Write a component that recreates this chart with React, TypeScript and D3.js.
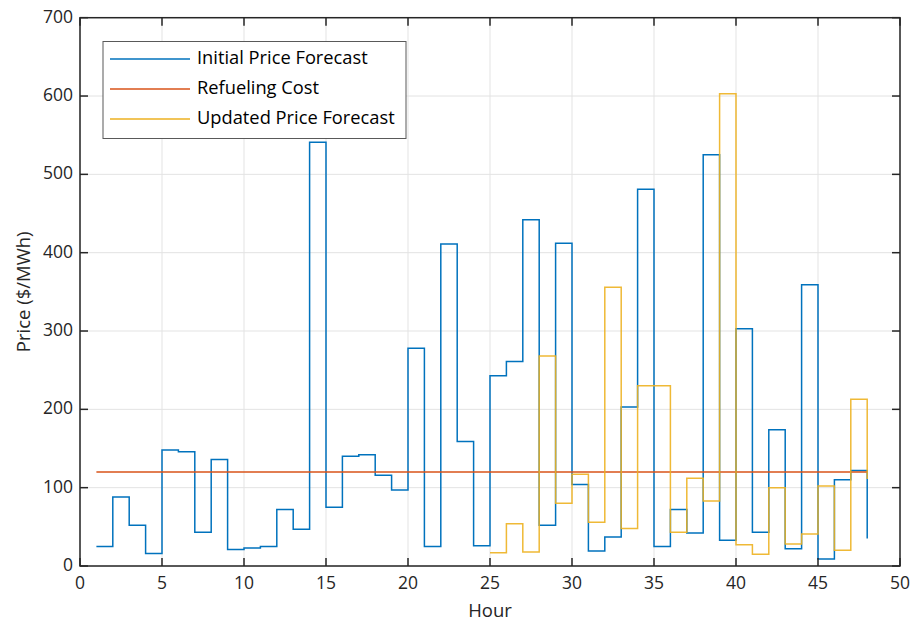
import React from "react";
import * as d3 from "d3";

const initialForecast = [
  25, 88, 52, 16, 148, 146, 43, 136, 21, 23, 25, 72, 47, 541, 75, 140,
  142, 116, 97, 278, 25, 411, 159, 26, 243, 261, 442, 52, 412, 104, 19, 37,
  203, 481, 25, 72, 42, 525, 33, 303, 43, 174, 22, 359, 9, 110, 122, 35,
];
const initialStartHour = 1;

const updatedForecast = [
  17, 54, 18, 268, 80, 117, 56, 356, 48, 230, 230, 43, 112, 83, 603, 27,
  15, 100, 28, 41, 102, 20, 213, 111,
];
const updatedStartHour = 25;

const refuelingCost = 120;
const refuelingHours = [1, 48];

const xTicks = [0, 5, 10, 15, 20, 25, 30, 35, 40, 45, 50];
const yTicks = [0, 100, 200, 300, 400, 500, 600, 700];

const seriesNames = ["Initial Price Forecast", "Refueling Cost", "Updated Price Forecast"];
const seriesColors = ["#0072BD", "#D95319", "#EDB120"];

const W = 914;
const H = 623;
const L = 80, R = 900, T = 17.7, B = 566;
const FONT = "'Open Sans', sans-serif";
const AX = "#262626";

export default function App() {
  const x = d3.scaleLinear().domain([0, 50]).range([L, R]);
  const y = d3.scaleLinear().domain([0, 700]).range([B, T]);

  const line = d3
    .line<[number, number]>()
    .x((d) => x(d[0]))
    .y((d) => y(d[1]))
    .curve(d3.curveStepAfter);

  const blue = line(initialForecast.map((v, i) => [initialStartHour + i, v] as [number, number]));
  const yellow = line(updatedForecast.map((v, i) => [updatedStartHour + i, v] as [number, number]));
  const orange = d3
    .line<[number, number]>()
    .x((d) => x(d[0]))
    .y((d) => y(d[1]))(refuelingHours.map((h) => [h, refuelingCost] as [number, number]));

  const tickLen = 8;

  return (
    <svg width={W} height={H} style={{ position: "absolute", left: 0, top: 0 }}>
      <rect x={0} y={0} width={W} height={H} fill="#fff" />
      {/* grid */}
      {xTicks.map((t) => (
        <line key={"gx" + t} x1={x(t)} x2={x(t)} y1={T} y2={B} stroke="#e3e3e3" strokeWidth={1} />
      ))}
      {yTicks.map((t) => (
        <line key={"gy" + t} x1={L} x2={R} y1={y(t)} y2={y(t)} stroke="#e3e3e3" strokeWidth={1} />
      ))}
      {/* series */}
      <path d={blue ?? ""} fill="none" stroke={seriesColors[0]} strokeWidth={1.5} />
      <path d={orange ?? ""} fill="none" stroke={seriesColors[1]} strokeWidth={1.5} />
      <path d={yellow ?? ""} fill="none" stroke={seriesColors[2]} strokeWidth={1.5} strokeOpacity={0.9} />
      {/* axes box */}
      <rect x={L} y={T} width={R - L} height={B - T} fill="none" stroke={AX} strokeWidth={1.5} />
      {xTicks.map((t) => (
        <g key={"tx" + t}>
          <line x1={x(t)} x2={x(t)} y1={B} y2={B - tickLen} stroke={AX} strokeWidth={1.5} />
          <line x1={x(t)} x2={x(t)} y1={T} y2={T + tickLen} stroke={AX} strokeWidth={1.5} />
          <text x={x(t)} y={B + 23} textAnchor="middle" fontFamily={FONT} fontSize={17.5} fill={AX}>
            {t}
          </text>
        </g>
      ))}
      {yTicks.map((t) => (
        <g key={"ty" + t}>
          <line x1={L} x2={L + tickLen} y1={y(t)} y2={y(t)} stroke={AX} strokeWidth={1.5} />
          <line x1={R} x2={R - tickLen} y1={y(t)} y2={y(t)} stroke={AX} strokeWidth={1.5} />
          <text x={L - 7} y={y(t) + 5} textAnchor="end" fontFamily={FONT} fontSize={17.5} fill={AX}>
            {t}
          </text>
        </g>
      ))}
      <text x={(L + R) / 2} y={617} textAnchor="middle" fontFamily={FONT} fontSize={18.5} fill={AX}>
        Hour
      </text>
      <text
        transform={`translate(29.5, ${(T + B) / 2}) rotate(-90)`}
        textAnchor="middle"
        fontFamily={FONT}
        fontSize={18.5}
        fill={AX}
      >
        Price ($/MWh)
      </text>
      {/* legend */}
      <rect x={103} y={41.5} width={303} height={97} fill="#fff" stroke="#595959" strokeWidth={1} />
      {seriesNames.map((n, i) => (
        <g key={n}>
          <line x1={110} x2={190} y1={59 + i * 30} y2={59 + i * 30} stroke={seriesColors[i]} strokeWidth={1.5} />
          <text x={197} y={63.5 + i * 30} fontFamily={FONT} fontSize={18.3} fill="#000">
            {n}
          </text>
        </g>
      ))}
    </svg>
  );
}
